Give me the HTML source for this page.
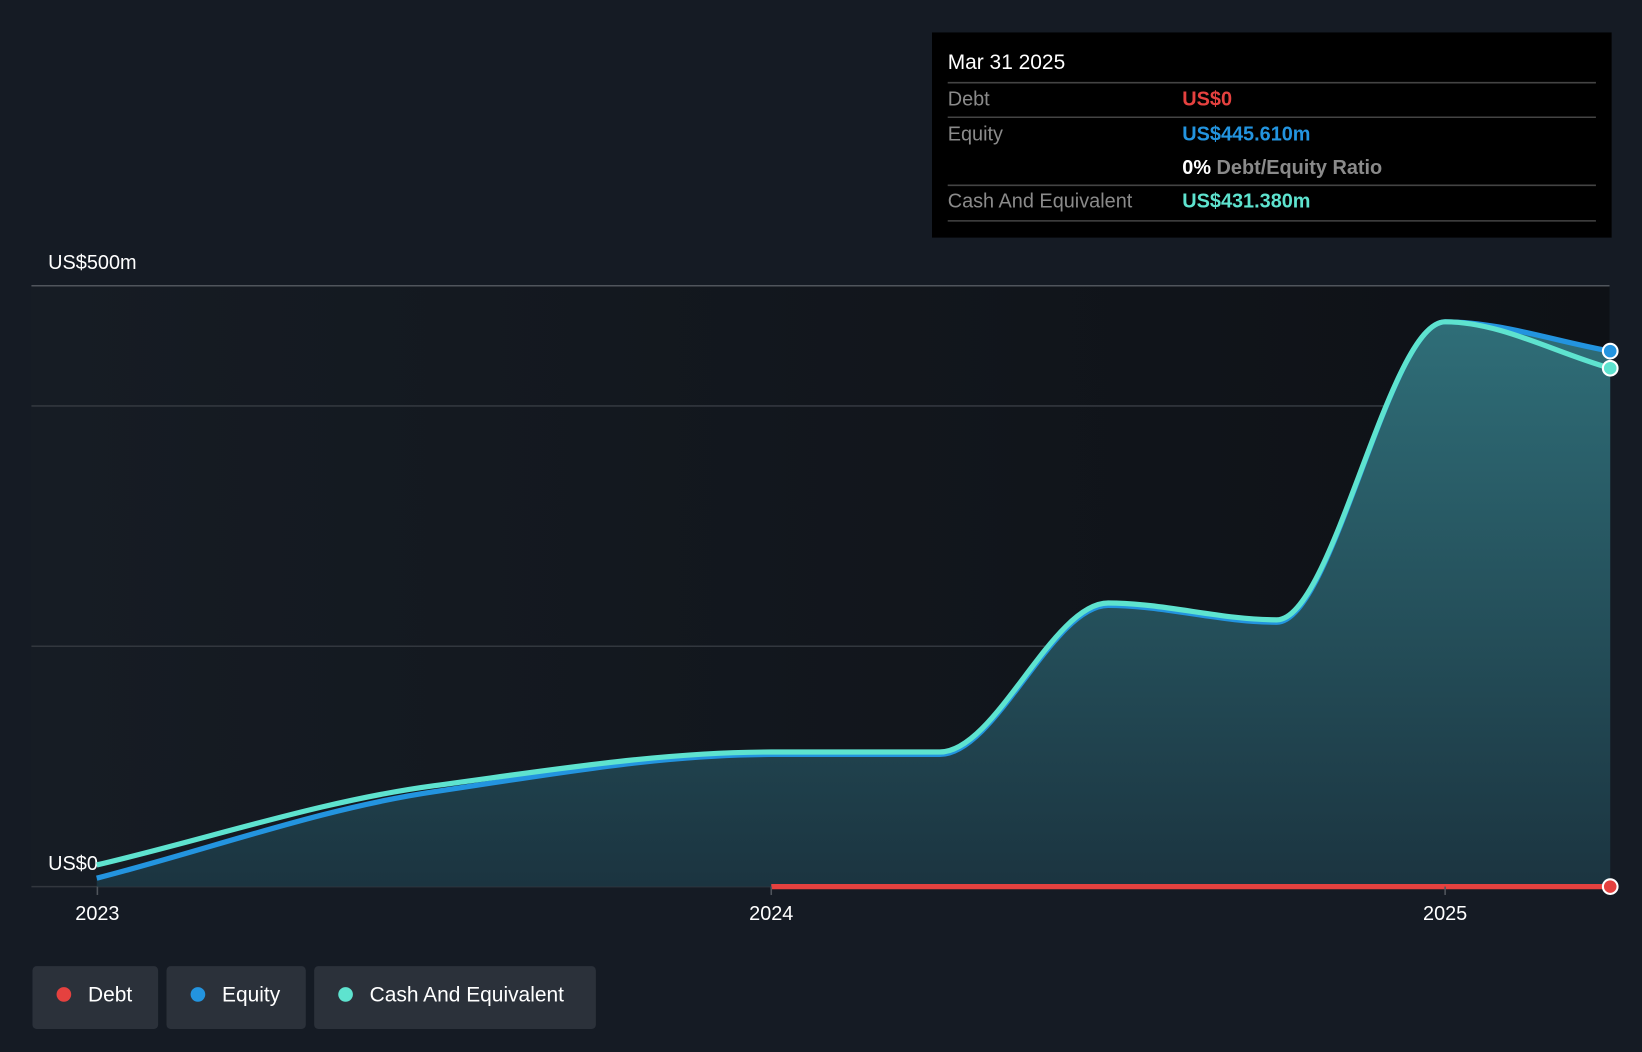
<!DOCTYPE html>
<html><head><meta charset="utf-8"><style>
html,body{margin:0;padding:0;background:#151b24;}
svg{display:block;font-family:"Liberation Sans",sans-serif;}
</style></head><body>
<svg id="chart" width="1642" height="1052" viewBox="0 0 1568 1005" preserveAspectRatio="none">
<defs>
<linearGradient id="bgG" x1="0" x2="1" y1="0" y2="0"><stop offset="0" stop-color="#161c24"/><stop offset="1" stop-color="#0e1116"/></linearGradient>
<linearGradient id="areaG" x1="0" x2="0" y1="0" y2="1"><stop offset="0" stop-color="#2f6e78"/><stop offset="1" stop-color="#1b3440"/></linearGradient>
</defs>
<rect width="1568" height="1005" fill="#151b24"/>
<rect x="30" y="273" width="1507" height="574" fill="url(#bgG)"/>
<g id="grid"></g>
<g id="series"></g>
<g id="xaxis"></g>
<g>
<rect x="890" y="31" width="649" height="196" fill="#000"/>
<text x="905" y="66" fill="#fff" font-size="20">Mar 31 2025</text>
<line x1="905" x2="1524" y1="79" y2="79" stroke="#444" stroke-width="1.5"/>
<text x="905" y="101" fill="#8a8a8a" font-size="19">Debt</text>
<text x="1129" y="101" fill="#e5413f" font-size="19" font-weight="bold">US$0</text>
<line x1="905" x2="1524" y1="112" y2="112" stroke="#444" stroke-width="1.5"/>
<text x="905" y="134" fill="#8a8a8a" font-size="19">Equity</text>
<text x="1129" y="134" fill="#2394df" font-size="19" font-weight="bold">US$445.610m</text>
<text x="1129" y="166" fill="#fff" font-size="19" font-weight="bold">0% <tspan fill="#8a8a8a">Debt/Equity Ratio</tspan></text>
<line x1="905" x2="1524" y1="177" y2="177" stroke="#444" stroke-width="1.5"/>
<text x="905" y="198" fill="#8a8a8a" font-size="19">Cash And Equivalent</text>
<text x="1129" y="198" fill="#5ee3cf" font-size="19" font-weight="bold">US$431.380m</text>
<line x1="905" x2="1524" y1="211" y2="211" stroke="#444" stroke-width="1.5"/>
</g>
<g>
<g><rect x="31" y="923" width="120" height="60" rx="4" fill="#2b313a"/><circle cx="61" cy="950" r="7" fill="#e5413f"/><text x="84" y="957" fill="#fff" font-size="20">Debt</text></g>
<g><rect x="159" y="923" width="133" height="60" rx="4" fill="#2b313a"/><circle cx="189" cy="950" r="7" fill="#2394df"/><text x="212" y="957" fill="#fff" font-size="20">Equity</text></g>
<g><rect x="300" y="923" width="269" height="60" rx="4" fill="#2b313a"/><circle cx="330" cy="950" r="7" fill="#5ee3cf"/><text x="353" y="957" fill="#fff" font-size="20">Cash And Equivalent</text></g>
</g>
</svg>
<script>
const dates=[2022.999,2023.5,2024.0,2024.25,2024.5,2024.75,2025.0,2025.245];
const equity=[7,79,110,110,234,220,470,445.61];
const cash=[18,84,112,112,236,222,470,431.38];
const debtDates=[2024.0,2024.25,2024.5,2024.75,2025.0,2025.245];
const debt=[0,0,0,0,0,0];
const yTicks=[0,200,400,500];
const yLabels=["US$0","","","US$500m"];
const xTicks=[2023,2024,2025];
const NS="http://www.w3.org/2000/svg";
const X=d=>93+(d-2023)*643.5;
const Y=v=>847-v*574/500;
function mk(t,a,p){const e=document.createElementNS(NS,t);for(const k in a)e.setAttribute(k,a[k]);p.appendChild(e);return e;}
function mono(xs,ys){const n=xs.length,d=[],m=[];for(let i=0;i<n-1;i++)d.push((ys[i+1]-ys[i])/(xs[i+1]-xs[i]));
m[0]=d[0];m[n-1]=d[n-2];for(let i=1;i<n-1;i++){m[i]=d[i-1]*d[i]<=0?0:3*(d[i-1]+d[i])/((2*d[i]+d[i-1])/d[i-1]+(d[i]+2*d[i-1])/d[i]);}
let s="M"+xs[0]+","+ys[0];for(let i=0;i<n-1;i++){const h=(xs[i+1]-xs[i])/3;s+="C"+(xs[i]+h)+","+(ys[i]+m[i]*h)+" "+(xs[i+1]-h)+","+(ys[i+1]-m[i+1]*h)+" "+xs[i+1]+","+ys[i+1];}return s;}
const grid=document.getElementById('grid');
yTicks.forEach((v,i)=>{const l=mk('line',{x1:30,x2:1537,y1:Y(v),y2:Y(v),stroke:i===3?'#50555c':'#32373e','stroke-width':1.5},grid);


if(yLabels[i]){const t=mk('text',{x:46,y:Y(v)-16,fill:'#fff','font-size':19},grid);t.textContent=yLabels[i];

}});
const xa=document.getElementById('xaxis');
xTicks.forEach(d=>{mk('line',{x1:X(d),x2:X(d),y1:847,y2:855,stroke:'#50555c','stroke-width':1.5},xa);
const t=mk('text',{x:X(d),y:879,fill:'#fff','font-size':19,'text-anchor':'middle'},xa);t.textContent=String(d);

});
const g=document.getElementById('series');
const ex=dates.map(X),ey=equity.map(Y),cy=cash.map(Y);
const area=mk('path',{d:mono(ex,ey)+"L"+ex[ex.length-1]+",847L"+ex[0]+",847Z",fill:'url(#areaG)'},g);


const eq=mk('path',{d:mono(ex,ey),fill:'none',stroke:'#2394df','stroke-width':5},g);


const ca=mk('path',{d:mono(ex,cy),fill:'none',stroke:'#5ee3cf','stroke-width':5},g);


const dx=debtDates.map(X),dy=debt.map(Y);
const db=mk('path',{d:mono(dx,dy),fill:'none',stroke:'#e5413f','stroke-width':5},g);


[[ex,ey,'#2394df','equity-end-point'],[ex,cy,'#5ee3cf','cash-end-point'],[dx,dy,'#e5413f','debt-end-point']].forEach(([xs,ys,c,n])=>{
const p=mk('circle',{cx:xs[xs.length-1],cy:ys[ys.length-1],r:7,fill:c,stroke:'#fff','stroke-width':2},g);

});
</script>
</body></html>
